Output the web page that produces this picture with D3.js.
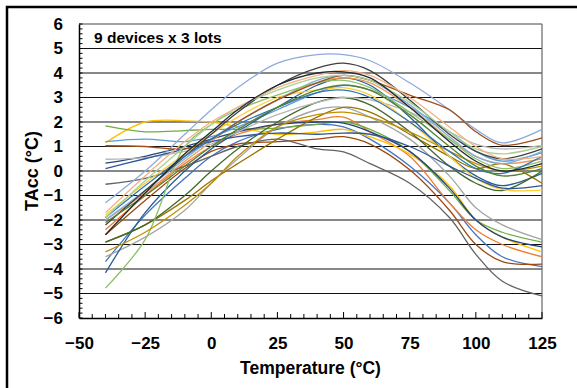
<!DOCTYPE html>
<html><head><meta charset="utf-8">
<script src="https://cdn.jsdelivr.net/npm/d3@7"></script>
<style>html,body{margin:0;padding:0;background:#fff;}svg{display:block;font-family:"Liberation Sans",Arial,sans-serif;}</style>
</head><body>
<svg id="chart" width="577" height="388"></svg>
<script>
const temps = [-40, -25, -10, 0, 10, 25, 40, 50, 60, 75, 90, 100, 110, 125];
const xTicks = [-50, -25, 0, 25, 50, 75, 100, 125];
const yTicks = [-6, -5, -4, -3, -2, -1, 0, 1, 2, 3, 4, 5, 6];
const colors = ["#4472C4","#ED7D31","#A5A5A5","#FFC000","#5B9BD5","#70AD47","#264478","#9E480E","#636363",
  "#997300","#255E91","#43682B","#8FAADC","#F1975A","#B7B7B7","#FFCD33","#7CAFDD","#8CC168",
  "#2F5597","#A0501A","#404040","#BF9000","#2E75B6","#548235","#A9D18E","#F4B183","#222A35"];
const s1  = [-3.7, -1.8, -0.3, 0.6, 1.2, 1.7, 1.9, 1.8, 1.3, 0.2, -1.3, -2.6, -3.5, -3.9];
const s2  = [-2.4, -1.0, 0.3, 1.0, 1.5, 1.9, 2.1, 2.2, 1.6, 0.6, -1.3, -2.4, -3.0, -3.5];
const s3  = [-3.5, -2.7, -1.6, -0.5, 0.5, 1.8, 2.5, 2.6, 2.2, 1.3, -0.2, -1.5, -2.2, -2.8];
const s4  = [1.15, 2.0, 2.05, 2.0, 1.8, 1.5, 1.6, 1.7, 1.4, 0.7, -0.6, -2.0, -2.7, -3.3];
const s5  = [1.2, 1.3, 1.2, 1.4, 1.8, 2.5, 3.2, 3.5, 3.3, 2.6, 1.6, 0.8, 0.4, 0.75];
const s6  = [1.84, 1.6, 1.65, 1.7, 1.7, 1.75, 1.9, 2.0, 1.7, 0.8, -0.8, -2.0, -2.5, -2.9];
const s7  = [0.32, 0.6, 1.0, 1.3, 1.6, 1.9, 2.0, 1.95, 1.6, 0.8, -0.7, -2.0, -2.7, -3.1];
const s8  = [-2.6, -1.2, 0.1, 0.8, 1.1, 1.2, 1.3, 1.4, 1.1, 0.05, -1.6, -3.0, -3.7, -3.8];
const s9  = [-0.54, -0.3, 0.2, 0.6, 1.0, 1.3, 0.9, 0.78, 0.3, -0.5, -1.9, -3.4, -4.5, -5.1];
const s10 = [-2.9, -2.2, -1.2, -0.4, 0.3, 1.3, 2.2, 2.6, 2.4, 1.5, 0.6, 0.1, 0.3, -0.5];
const s11 = [-4.16, -1.7, 0.0, 0.9, 1.6, 2.6, 3.5, 3.8, 3.5, 2.2, 0.6, -0.2, -0.6, -0.1];
const s12 = [-2.9, -2.2, -1.0, 0.0, 0.9, 2.0, 2.8, 3.0, 2.7, 1.6, 0.2, -0.5, -0.8, 0.0];
const s13 = [-1.3, 0.0, 1.5, 2.5, 3.4, 4.4, 4.75, 4.75, 4.5, 3.6, 2.5, 1.7, 1.15, 1.7];
const s14 = [-2.0, -0.9, 0.4, 1.2, 2.0, 2.9, 3.6, 3.8, 3.6, 2.6, 1.3, 0.6, 0.3, 0.5];
const s15 = [0.48, 0.55, 0.8, 1.1, 1.6, 2.3, 2.8, 3.0, 2.9, 2.4, 1.6, 1.1, 0.9, 1.05];
const s16 = [-1.8, -0.5, 0.7, 1.5, 2.2, 3.0, 3.3, 3.4, 3.1, 2.0, 0.6, -0.3, -0.75, -0.78];
const s17 = [-2.0, -0.8, 0.5, 1.3, 2.0, 2.9, 3.7, 3.9, 3.7, 2.7, 1.4, 0.6, 0.3, 0.8];
const s18 = [-4.78, -2.8, 1.0, 1.9, 2.5, 3.1, 3.6, 3.7, 3.4, 2.4, 1.3, 0.5, 0.1, 0.4];
const s19 = [0.1, 0.5, 0.9, 1.2, 1.4, 1.55, 1.5, 1.55, 1.5, 1.0, 0.2, -0.3, -0.7, -0.6];
const s20 = [1.03, 1.0, 0.9, 1.3, 2.0, 2.9, 3.6, 3.9, 3.7, 3.1, 2.5, 1.6, 1.05, 1.35];
const s21 = [-2.2, -0.8, 0.6, 1.5, 2.4, 3.5, 4.2, 4.4, 4.1, 2.9, 1.5, 0.8, 0.5, 0.9];
const s22 = [-3.3, -2.5, -1.4, -0.5, 0.6, 1.8, 2.3, 2.4, 2.2, 1.6, 0.8, 0.3, 0.0, 0.2];
const s23 = [-1.9, -0.6, 0.6, 1.3, 1.9, 2.6, 3.2, 3.3, 3.0, 2.0, 0.8, 0.1, -0.1, 0.6];
const s24 = [-2.1, -1.0, 0.2, 1.0, 1.7, 2.6, 3.3, 3.5, 3.3, 2.3, 1.0, 0.2, -0.2, 0.1];
const s25 = [-1.9, -0.4, 1.0, 1.9, 2.6, 3.3, 3.8, 3.9, 3.7, 2.8, 1.6, 0.9, 0.7, 1.0];
const s26 = [-1.7, -0.2, 1.2, 2.0, 2.6, 3.4, 3.9, 4.1, 3.9, 3.0, 1.8, 1.0, 0.5, 0.6];
const s27 = [-2.6, -0.9, 0.7, 1.6, 2.5, 3.5, 4.0, 4.05, 3.8, 2.6, 1.2, 0.4, 0.0, 0.3];
const seriesValues = [s1,s2,s3,s4,s5,s6,s7,s8,s9,s10,s11,s12,s13,s14,s15,s16,s17,s18,s19,s20,s21,s22,s23,s24,s25,s26,s27];

const svg = d3.select("#chart");
const L = 79, R = 542, T = 24, B = 318;
const x = d3.scaleLinear().domain([-50, 125]).range([L, R]);
const y = d3.scaleLinear().domain([-6, 6]).range([B, T]);

// outer border
svg.append("rect").attr("x", 7).attr("y", 7).attr("width", 620).attr("height", 420)
  .attr("fill", "none").attr("stroke", "#000").attr("stroke-width", 2.5);

// gridlines
svg.append("g").selectAll("line").data(yTicks.filter(v => v > -6)).join("line")
  .attr("x1", L).attr("x2", R).attr("y1", d => y(d)).attr("y2", d => y(d))
  .attr("stroke", d => d === 6 ? "#444" : "#111").attr("stroke-width", 1);
svg.append("line").attr("x1", R).attr("x2", R).attr("y1", T).attr("y2", B).attr("stroke", "#666").attr("stroke-width", 1.2);

// series
const line = d3.line().x((d, i) => x(temps[i])).y(d => y(d)).curve(d3.curveCatmullRom.alpha(0.5));
svg.append("g").selectAll("path").data(seriesValues).join("path")
  .attr("d", d => line(d)).attr("fill", "none")
  .attr("stroke", (d, i) => colors[i]).attr("stroke-width", 1.3);

// axes
const yAxis = d3.axisLeft(y).tickValues(yTicks).tickSize(0).tickPadding(16).tickFormat(d3.format("d"));
const gy = svg.append("g").attr("transform", `translate(${L},0)`).call(yAxis);
gy.select(".domain").attr("stroke", "#000").attr("stroke-width", 1.5);
gy.selectAll("text").attr("font-size", 17).attr("font-weight", "bold").attr("fill", "#000");
const yMinor = d3.range(-6, 6.001, 0.2);
svg.append("g").selectAll("line").data(yMinor).join("line")
  .attr("x1", L).attr("x2", L + 3.5).attr("y1", d => y(d)).attr("y2", d => y(d))
  .attr("stroke", "#000").attr("stroke-width", 1);

const xAxis = d3.axisBottom(x).tickValues(xTicks).tickSize(0).tickPadding(19).tickFormat(d3.format("d"));
const gx = svg.append("g").attr("transform", `translate(0,${B})`).call(xAxis);
gx.select(".domain").attr("stroke", "#000").attr("stroke-width", 1.5);
gx.selectAll("text").attr("font-size", 17).attr("font-weight", "bold").attr("fill", "#000");
const xMinor = d3.range(-50, 125.001, 5);
svg.append("g").selectAll("line").data(xMinor).join("line")
  .attr("x1", d => x(d)).attr("x2", d => x(d)).attr("y1", B).attr("y2", d => d % 25 === 0 ? B - 6 : B - 4)
  .attr("stroke", "#000").attr("stroke-width", 1);

// titles
svg.append("text").attr("x", (L + R) / 2).attr("y", 374).attr("text-anchor", "middle")
  .attr("font-size", 17.5).attr("font-weight", "bold").text("Temperature (°C)");
svg.append("text").attr("transform", `translate(38,${(T + B) / 2}) rotate(-90)`).attr("text-anchor", "middle")
  .attr("font-size", 18).attr("font-weight", "bold").text("TAcc (°C)");
svg.append("text").attr("x", 94).attr("y", 43).attr("font-size", 15.5).attr("font-weight", "bold").text("9 devices x 3 lots");
</script>
</body></html>
